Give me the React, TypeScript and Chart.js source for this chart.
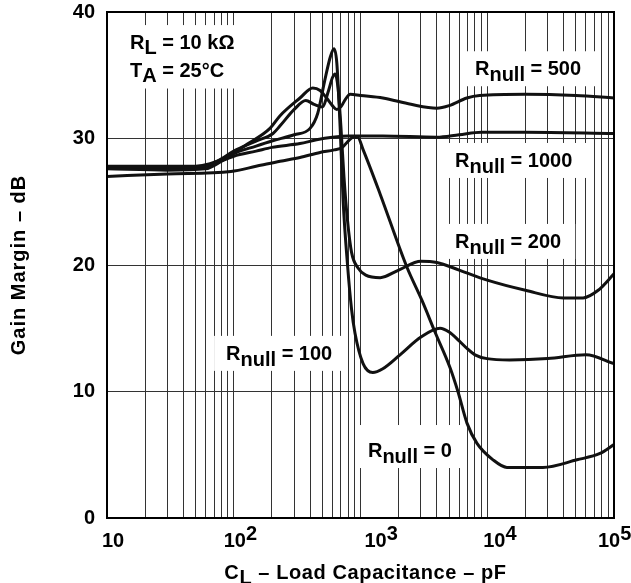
import React, { useEffect, useRef } from "react";
import { Chart, registerables } from "chart.js";

Chart.register(...registerables);

const FONT = '"Liberation Sans", Arial, Helvetica, sans-serif';

// ---- data (load capacitance in pF, gain margin in dB) ----
const capR0 = [10, 30, 95, 150, 232, 333, 480, 620, 720, 800, 880, 950, 1050, 1430, 2330, 3055, 3870, 5080, 5870, 6920, 8300, 11100, 14300, 27500, 51000, 77600, 100000];
const gmR0 = [27.0, 27.2, 27.4, 27.8, 28.2, 28.5, 28.9, 29.1, 29.3, 29.8, 30.1, 30.1, 29.1, 25.6, 19.8, 17.2, 14.7, 11.9, 10.0, 7.5, 5.9, 4.6, 4.0, 4.0, 4.6, 5.1, 5.8];

const capR100 = [10, 30, 60, 80, 100, 150, 200, 300, 400, 460, 520, 580, 618, 650, 690, 730, 790, 850, 905, 1048, 1250, 1500, 2050, 3000, 4240, 5000, 6000, 6920, 8000, 9950, 15000, 30000, 60000, 100000];
const gmR100 = [27.6, 27.5, 27.6, 28.2, 28.8, 29.4, 29.8, 30.3, 30.8, 32.0, 34.5, 36.5, 37.1, 36.0, 31.0, 25.0, 20.0, 16.5, 14.6, 12.2, 11.5, 11.8, 12.9, 14.3, 15.0, 14.7, 14.0, 13.4, 12.9, 12.6, 12.5, 12.6, 12.9, 12.2];

const capR200 = [10, 50, 65, 80, 100, 150, 204, 232, 300, 370, 430, 500, 560, 600, 630, 665, 700, 740, 790, 850, 950, 1100, 1430, 2000, 3000, 4000, 6000, 10000, 20000, 40000, 57000, 75000, 100000];
const gmR200 = [27.7, 27.7, 27.9, 28.4, 29.0, 29.8, 30.4, 31.0, 32.3, 33.0, 32.7, 32.5, 33.8, 34.8, 35.1, 34.0, 31.0, 27.0, 23.5, 21.0, 19.8, 19.2, 19.0, 19.6, 20.3, 20.2, 19.6, 18.8, 18.0, 17.4, 17.4, 18.0, 19.3];

const capR500 = [10, 50, 65, 90, 130, 193, 232, 333, 420, 480, 540, 600, 650, 700, 760, 830, 1000, 1500, 2500, 4000, 5000, 6900, 8700, 20000, 50000, 100000];
const gmR500 = [27.8, 27.8, 28.0, 28.6, 29.6, 30.8, 31.8, 33.2, 34.0, 33.8, 33.2, 32.6, 32.3, 32.5, 33.1, 33.5, 33.4, 33.2, 32.7, 32.4, 32.6, 33.2, 33.4, 33.5, 33.4, 33.2];

const capR1000 = [10, 60, 70, 100, 150, 200, 333, 450, 600, 800, 1500, 4000, 6000, 9000, 20000, 100000];
const gmR1000 = [27.7, 27.8, 28.0, 28.6, 29.0, 29.3, 29.6, 29.9, 30.1, 30.2, 30.2, 30.1, 30.3, 30.5, 30.5, 30.4];

const seriesCaps = [capR0, capR100, capR200, capR500, capR1000];
const seriesGains = [gmR0, gmR100, gmR200, gmR500, gmR1000];
const seriesNames = ["Rnull = 0", "Rnull = 100", "Rnull = 200", "Rnull = 500", "Rnull = 1000"];

const yTicks = [0, 10, 20, 30, 40];
const xDecades = [10, 100, 1000, 10000, 100000];
const xExponents = [1, 2, 3, 4, 5];
const minorMultipliers = [1, 2, 3, 4, 5, 6, 7, 8, 9];

const yTitle = "Gain Margin – dB";
const xTitleParts = ["C", "L", " – Load Capacitance – pF"];

// curve labels: main text, subscript, rest, anchor (capacitance, gain margin)
const curveLabelMain = ["R", "R", "R", "R", "R"];
const curveLabelSub = ["null", "null", "null", "null", "null"];
const curveLabelRest = [" = 500", " = 1000", " = 200", " = 100", " = 0"];
const curveLabelCap = [8000, 5570, 5570, 87, 1145];
const curveLabelGain = [35.0, 27.75, 21.35, 12.5, 4.82];

const condMain = ["R", "T"];
const condSub = ["L", "A"];
const condRest = [" = 10 kΩ", " = 25°C"];
const condCap = 15.2;
const condGain = [37.07, 34.9];

// layout: left-edge offset of each decade label relative to its grid line (px)
const xLabelShift = [-5, -10, 4, -4, -16];

const xGrid: number[] = [];
xDecades.slice(0, -1).forEach((d) => minorMultipliers.forEach((m) => xGrid.push(d * m)));
xGrid.push(xDecades[xDecades.length - 1]);

function drawParts(ctx: CanvasRenderingContext2D, x: number, y: number, parts: string[], offsets: number[]) {
  let cx = x;
  parts.forEach((p, i) => {
    ctx.fillText(p, cx, y + offsets[i]);
    cx += ctx.measureText(p).width;
  });
  return cx;
}

function partsWidth(ctx: CanvasRenderingContext2D, parts: string[]) {
  return parts.reduce((s, p) => s + ctx.measureText(p).width, 0);
}

const textPlugin = {
  id: "textPlugin",
  beforeDatasetsDraw(chart: any) {
    const ctx: CanvasRenderingContext2D = chart.ctx;
    const xs = chart.scales.x;
    const ys = chart.scales.y;
    ctx.save();
    ctx.font = `bold 20px ${FONT}`;
    ctx.textBaseline = "alphabetic";
    ctx.textAlign = "left";
    {
      const x = xs.getPixelForValue(condCap);
      const y1 = ys.getPixelForValue(condGain[0]);
      const y2 = ys.getPixelForValue(condGain[1]);
      let w = 0;
      condMain.forEach((m, i) => {
        w = Math.max(w, partsWidth(ctx, [m, condSub[i], condRest[i]]));
      });
      ctx.fillStyle = "#fff";
      ctx.fillRect(x - 6, y1 - 24, w + 14, y2 - y1 + 36);
      ctx.fillStyle = "#000";
      condMain.forEach((m, i) => {
        const y = i === 0 ? y1 : y2;
        drawParts(ctx, x, y, [m, condSub[i], condRest[i]], [0, 5, 0]);
      });
    }
    curveLabelMain.forEach((m, i) => {
      const x = xs.getPixelForValue(curveLabelCap[i]);
      const y = ys.getPixelForValue(curveLabelGain[i]);
      const parts = [m, curveLabelSub[i], curveLabelRest[i]];
      const w = partsWidth(ctx, parts);
      ctx.fillStyle = "#fff";
      const top = i === 4 ? 32 : 24;
      ctx.fillRect(x - 12, y - top, w + 26, top + 11);
      ctx.fillStyle = "#000";
      drawParts(ctx, x, y, parts, [0, 6, 0]);
    });
    ctx.restore();
  },
  afterDraw(chart: any) {
    const ctx: CanvasRenderingContext2D = chart.ctx;
    const a = chart.chartArea;
    const xs = chart.scales.x;
    ctx.save();
    ctx.strokeStyle = "#000";
    ctx.lineWidth = 2;
    ctx.strokeRect(a.left, a.top, a.right - a.left, a.bottom - a.top);
    ctx.fillStyle = "#000";
    ctx.font = `bold 20px ${FONT}`;
    ctx.textBaseline = "alphabetic";
    ctx.textAlign = "left";
    xDecades.forEach((d, i) => {
      const px = xs.getPixelForValue(d);
      const parts = xExponents[i] === 1 ? ["10"] : ["10", String(xExponents[i])];
      drawParts(ctx, px + xLabelShift[i], a.bottom + 29, parts, [0, -7]);
    });
    (ctx as any).letterSpacing = "0.6px";
    const tw = partsWidth(ctx, xTitleParts);
    drawParts(ctx, (a.left + a.right) / 2 + 5 - tw / 2, a.bottom + 61, xTitleParts, [0, 5, 0]);
    (ctx as any).letterSpacing = "1px";
    ctx.translate(19, (a.top + a.bottom) / 2);
    ctx.rotate(-Math.PI / 2);
    ctx.textAlign = "center";
    ctx.textBaseline = "middle";
    ctx.fillText(yTitle, 0, 0);
    ctx.restore();
  },
};

export default function App() {
  const ref = useRef<HTMLCanvasElement | null>(null);
  useEffect(() => {
    if (!ref.current) return;
    const chart = new Chart(ref.current, {
      type: "line",
      data: {
        datasets: seriesCaps.map((caps, s) => ({
          label: seriesNames[s],
          data: caps.map((c, i) => ({ x: c, y: seriesGains[s][i] })),
          borderColor: "#111",
          borderWidth: 3,
          pointRadius: 0,
          fill: false,
          cubicInterpolationMode: "monotone" as const,
        })),
      },
      options: {
        animation: false,
        responsive: false,
        devicePixelRatio: 1,
        events: [],
        layout: { padding: { top: 12, right: 17, left: 0, bottom: 0 } },
        plugins: { legend: { display: false }, tooltip: { enabled: false } },
        scales: {
          x: {
            type: "logarithmic",
            min: 10,
            max: 100000,
            afterBuildTicks: (s: any) => {
              s.ticks = xGrid.map((v) => ({ value: v }));
            },
            afterFit: (s: any) => {
              s.height = 65;
              s.paddingLeft = 0;
              s.paddingRight = 0;
            },
            ticks: { display: false },
            grid: { color: "#333", lineWidth: 1, drawTicks: false },
            border: { color: "#000", width: 2 },
          },
          y: {
            type: "linear",
            min: 0,
            max: 40,
            afterBuildTicks: (s: any) => {
              s.ticks = yTicks.map((v) => ({ value: v }));
            },
            afterFit: (s: any) => {
              s.width = 107;
              s.paddingTop = 0;
              s.paddingBottom = 0;
            },
            ticks: {
              color: "#000",
              padding: 12,
              font: { family: FONT, size: 20, weight: "bold" },
            },
            grid: { color: "#333", lineWidth: 1, drawTicks: false },
            border: { color: "#000", width: 2 },
          },
        },
      },
      plugins: [textPlugin],
    });
    return () => chart.destroy();
  }, []);
  return (
    <div style={{ position: "fixed", left: 0, top: 0, width: 631, height: 583, background: "#fff" }}>
      <canvas ref={ref} width={631} height={583} />
    </div>
  );
}
